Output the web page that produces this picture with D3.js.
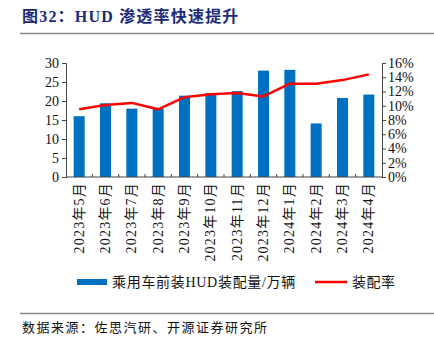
<!DOCTYPE html>
<html><head><meta charset="utf-8">
<script src="https://cdn.jsdelivr.net/npm/d3@7"></script>
<style>body{margin:0;background:#fff}svg{display:block}</style>
</head><body>
<svg id="c" width="434" height="339"></svg>
<script>
const categories = ["2023年5月","2023年6月","2023年7月","2023年8月","2023年9月","2023年10月","2023年11月","2023年12月","2024年1月","2024年2月","2024年3月","2024年4月"];
const volume = [16.0, 19.4, 18.0, 18.0, 21.4, 22.1, 22.6, 28.0, 28.2, 14.1, 20.8, 21.7];
const rate = [9.5, 10.1, 10.4, 9.5, 11.2, 11.6, 11.8, 11.3, 13.1, 13.1, 13.6, 14.4];
const leftTicks = [0,5,10,15,20,25,30];
const rightTicks = [0,2,4,6,8,10,12,14,16];
const seriesNames = ["乘用车前装HUD装配量/万辆","装配率"];
const titleText = "图32：HUD 渗透率快速提升";
const sourceText = "数据来源：佐思汽研、开源证券研究所";

const svg = d3.select("#c");
const serif = "'Liberation Serif','Times New Roman',serif";
const cjk = "'Liberation Serif','Noto Sans CJK SC',serif";
const L = 66, R = 382, T = 63, B = 177;

// title
svg.append("text").attr("x",22).attr("y",22).attr("fill","#1c2a78")
  .attr("font-family",cjk).attr("font-weight","bold").attr("font-size",16)
  .attr("letter-spacing",1.2).text(titleText);
svg.append("line").attr("x1",20).attr("x2",434).attr("y1",33.5).attr("y2",33.5).attr("stroke","#888").attr("stroke-width",1.5);

const xb = d3.scaleBand().domain(categories).range([L,R]);
const yL = d3.scaleLinear().domain([0,30]).range([B,T]);
const yR = d3.scaleLinear().domain([0,16]).range([B,T]);

// bars
svg.append("g").selectAll("rect").data(volume).join("rect")
  .attr("x",(d,i)=>xb(categories[i]) + xb.bandwidth()/2 - 5.5)
  .attr("width",11)
  .attr("y",d=>yL(d)).attr("height",d=>B-yL(d)).attr("fill","#0070c0");

// line
svg.append("path").datum(rate)
  .attr("d", d3.line().x((d,i)=>xb(categories[i])+xb.bandwidth()/2).y(d=>yR(d)))
  .attr("fill","none").attr("stroke","#ff0000").attr("stroke-width",2.5).attr("stroke-linejoin","round");

// left axis
const gl = svg.append("g").attr("transform",`translate(${L},0)`)
  .call(d3.axisLeft(yL).tickValues(leftTicks).tickSize(4).tickPadding(3));
gl.select(".domain").attr("stroke","#444");
gl.selectAll(".tick line").attr("stroke","#444");
gl.selectAll("text").attr("font-family",serif).attr("font-size",14).attr("fill","#111");

// right axis
const gr = svg.append("g").attr("transform",`translate(${R},0)`)
  .call(d3.axisRight(yR).tickValues(rightTicks).tickFormat(d=>d+"%").tickSize(4).tickPadding(2));
gr.select(".domain").attr("stroke","#444");
gr.selectAll(".tick line").attr("stroke","#444");
gr.selectAll("text").attr("font-family",serif).attr("font-size",14).attr("fill","#111");

// bottom axis
const gb = svg.append("g").attr("transform",`translate(0,${B})`);
gb.append("line").attr("x1",L).attr("x2",R).attr("stroke","#444");
gb.selectAll("line.tk").data(categories.slice(1)).join("line").attr("class","tk")
  .attr("x1",d=>xb(d)).attr("x2",d=>xb(d)).attr("y1",0).attr("y2",-3).attr("stroke","#444");
gb.selectAll("text").data(categories).join("text")
  .attr("transform",d=>`translate(${xb(d)+xb.bandwidth()/2+4.5},5) rotate(-90)`)
  .attr("text-anchor","end").attr("font-family",cjk).attr("font-size",14).attr("letter-spacing",1.2).attr("fill","#111")
  .text(d=>d);

// legend
svg.append("rect").attr("x",77).attr("y",279).attr("width",30).attr("height",6).attr("fill","#0070c0");
svg.append("text").attr("x",112).attr("y",287).attr("font-family",cjk).attr("font-size",14).attr("letter-spacing",0.7).attr("fill","#111").text(seriesNames[0]);
svg.append("line").attr("x1",315).attr("x2",347).attr("y1",282).attr("y2",282).attr("stroke","#ff0000").attr("stroke-width",2.5);
svg.append("text").attr("x",352).attr("y",287).attr("font-family",cjk).attr("font-size",14).attr("letter-spacing",0.5).attr("fill","#111").text(seriesNames[1]);

// source
svg.append("line").attr("x1",20).attr("x2",434).attr("y1",313.5).attr("y2",313.5).attr("stroke","#888").attr("stroke-width",1.5);
svg.append("text").attr("x",22).attr("y",332).attr("font-family",cjk).attr("font-size",13).attr("letter-spacing",1.5).attr("fill","#111").text(sourceText);
</script>
</body></html>
